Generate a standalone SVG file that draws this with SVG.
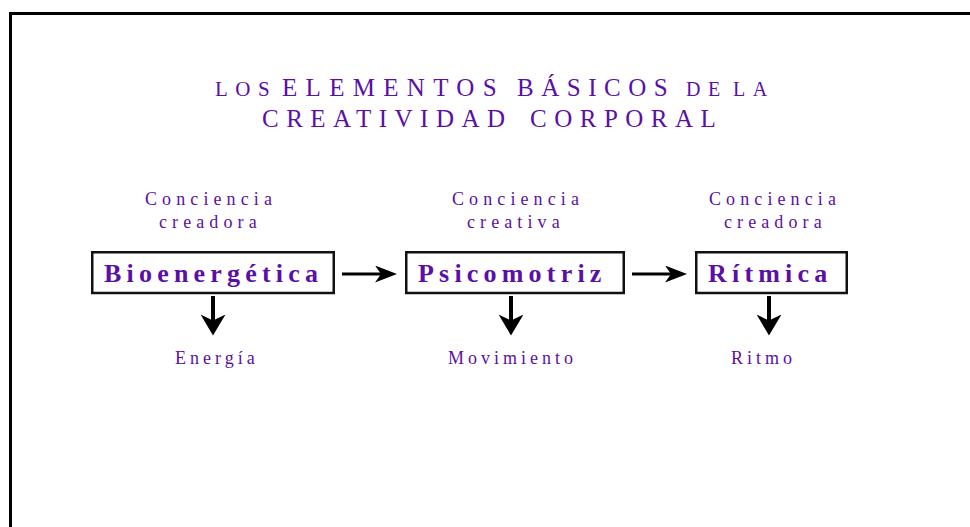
<svg xmlns="http://www.w3.org/2000/svg" width="970" height="527" viewBox="0 0 970 527">
<style>
  text { font-family: "Liberation Serif", "Times New Roman", serif; fill: #5a10a6; }
  .t { font-size: 25px; letter-spacing: 7.5px; }
  .ts { font-size: 21px; }
  .tx { font-size: 20px; }
  .lab { font-size: 18px; letter-spacing: 5.1px; }
  .sub { font-size: 18px; letter-spacing: 4px; }
  .node rect { fill: #ffffff; stroke: #111111; stroke-width: 2.5; }
  .node text { font-size: 26px; font-weight: bold; letter-spacing: 5.2px; }
  .frame { stroke: #000000; stroke-width: 3; fill: none; }
  .h { stroke: #000000; stroke-width: 3; fill: none; marker-end: url(#ah); }
  .v { stroke: #000000; stroke-width: 4; fill: none; marker-end: url(#av); }
</style>
<defs>
  <marker id="ah" markerUnits="userSpaceOnUse" viewBox="0 0 22 17" markerWidth="22" markerHeight="17" refX="11" refY="8.5" orient="auto">
    <path d="M0,0 L22,8.5 L0,17 L6,8.5 Z" fill="#000000"/>
  </marker>
  <marker id="av" markerUnits="userSpaceOnUse" viewBox="0 0 21 25" markerWidth="21" markerHeight="25" refX="10.5" refY="12.5" orient="auto">
    <path d="M0,0 L21,12.5 L0,25 L6,12.5 Z" fill="#000000"/>
  </marker>
</defs>
<rect width="970" height="527" fill="#ffffff"/>
<g id="frame">
  <line class="frame" x1="9" y1="13.5" x2="970" y2="13.5"/>
  <line class="frame" x1="10.5" y1="12" x2="10.5" y2="527"/>
</g>
<g id="title">
  <text class="t" y="96"><tspan x="215" class="ts">LOS</tspan><tspan x="282" letter-spacing="8.3">ELEMENTOS</tspan><tspan x="517">BÁSICOS</tspan><tspan x="686" class="tx">DE</tspan><tspan x="733" class="tx">LA</tspan></text>
  <text class="t" y="127" letter-spacing="8"><tspan x="262">CREATIVIDAD</tspan><tspan x="530">CORPORAL</tspan></text>
</g>
<g id="labels-top">
  <text class="lab" x="145" y="205">Conciencia</text>
  <text class="lab" x="159" y="228">creadora</text>
  <text class="lab" x="452" y="205">Conciencia</text>
  <text class="lab" x="467" y="228">creativa</text>
  <text class="lab" x="709" y="205">Conciencia</text>
  <text class="lab" x="724" y="228">creadora</text>
</g>
<g id="node-bioenergetica" class="node">
  <rect x="92.25" y="252.25" width="241.5" height="40.75"/>
  <text x="104" y="282">Bioenergética</text>
</g>
<g id="node-psicomotriz" class="node">
  <rect x="406.25" y="252.25" width="217.5" height="40.75"/>
  <text x="418" y="282">Psicomotriz</text>
</g>
<g id="node-ritmica" class="node">
  <rect x="696.25" y="252.25" width="150.5" height="40.75"/>
  <text x="708" y="282">Rítmica</text>
</g>
<g id="connectors">
  <line class="h" x1="342" y1="274" x2="386" y2="274"/>
  <line class="h" x1="632" y1="274" x2="676" y2="274"/>
  <line class="v" x1="213" y1="296" x2="213" y2="325"/>
  <line class="v" x1="511" y1="296" x2="511" y2="325"/>
  <line class="v" x1="769" y1="296" x2="769" y2="325"/>
</g>
<g id="labels-bottom">
  <text class="sub" x="175" y="364">Energía</text>
  <text class="sub" x="448" y="364">Movimiento</text>
  <text class="sub" x="731" y="364">Ritmo</text>
</g>
</svg>
